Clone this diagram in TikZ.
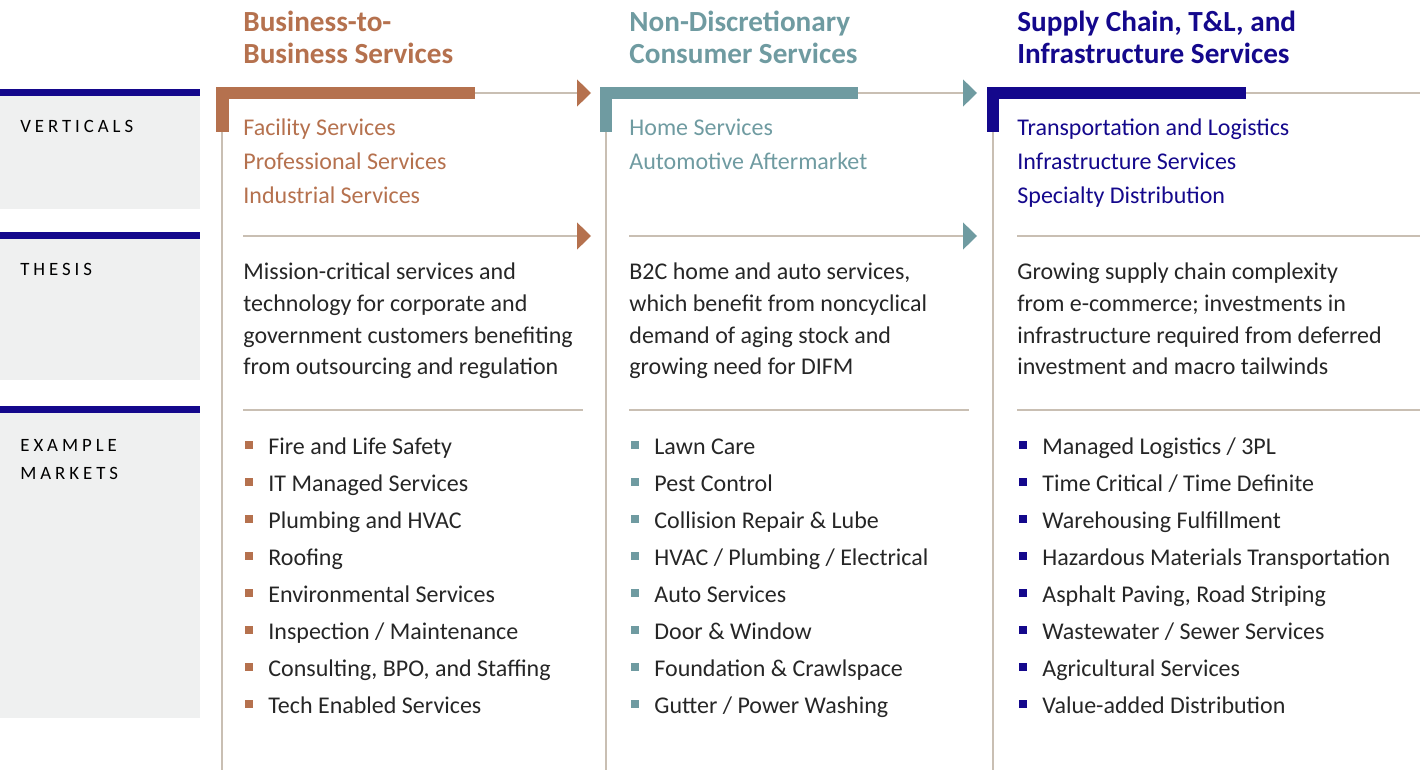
\documentclass[tikz,border=0pt]{standalone}
\usepackage{fontspec}
\setmainfont{Carlito}
\usetikzlibrary{arrows.meta}
\definecolor{corg}{HTML}{B5714E}
\definecolor{cteal}{HTML}{6F9BA1}
\definecolor{cnavy}{HTML}{14088C}
\definecolor{ctan}{HTML}{C9BFB3}
\definecolor{cgray}{HTML}{EFF0F0}
\definecolor{ctext}{HTML}{262626}
\begin{document}
\begin{tikzpicture}[x=0.5pt,y=-0.5pt,
  txt/.style={anchor=base west,inner sep=0pt,font=\fontsize{12}{14}\selectfont,text=ctext},
  head/.style={anchor=base west,inner sep=0pt,font=\fontsize{14.6}{17}\selectfont\bfseries},
  lab/.style={anchor=base west,inner sep=0pt,font=\fontsize{9.4}{11}\selectfont\addfontfeatures{LetterSpace=21},text=black},
  thin/.style={draw=ctan,line width=0.6pt},
  conn/.style={draw=ctan,line width=0.6pt},
  bul/.style={inner sep=0pt,minimum size=3.7pt,rectangle,anchor=center}
]
\useasboundingbox (0,0) rectangle (1424,770);
% left panels
\foreach \t/\b/\n in {89/209/v,232/380/t,406/718/e}{
  \fill[cgray] (0,\t) rectangle (200,\b);
  \fill[cnavy] (0,\t) rectangle (200,\t+7);
}
\node[lab] (lv) at (20,133) {VERTICALS};
\node[lab] (lt) at (20,276) {THESIS};
\node[lab] (le1) at (20,451) {EXAMPLE};
\node[lab] (le2) at (20,479) {MARKETS};
% vertical lines
\draw[thin] (222,120) -- (222,770);
\draw[thin] (606,120) -- (606,770);
\draw[thin] (993,120) -- (993,770);
% brackets
\fill[corg] (216,87) rectangle (475,99);
\fill[corg] (216,87) rectangle (229,132);
\fill[cteal] (600,87) rectangle (858,99);
\fill[cteal] (600,87) rectangle (612,132);
\fill[cnavy] (987,87) rectangle (1246,99);
\fill[cnavy] (987,87) rectangle (999,132);
% connectors row 1
\coordinate (r1a) at (475,93); \coordinate (r1b) at (591,93);
\coordinate (r1c) at (858,93); \coordinate (r1d) at (977,93);
\coordinate (r1e) at (1246,93); \coordinate (r1f) at (1420,93);
\draw[conn,-{Triangle[length=7pt,width=13.5pt,color=corg]}] (r1a) -- (r1b);
\draw[conn,-{Triangle[length=7pt,width=13.5pt,color=cteal]}] (r1c) -- (r1d);
\draw[conn] (r1e) -- (r1f);
% connectors row 2
\coordinate (r2a) at (243,236); \coordinate (r2b) at (591,236);
\coordinate (r2c) at (629,236); \coordinate (r2d) at (977,236);
\coordinate (r2e) at (1017,236); \coordinate (r2f) at (1420,236);
\draw[conn,-{Triangle[length=7pt,width=13.5pt,color=corg]}] (r2a) -- (r2b);
\draw[conn,-{Triangle[length=7pt,width=13.5pt,color=cteal]}] (r2c) -- (r2d);
\draw[conn] (r2e) -- (r2f);
% row 3 separators
\draw[thin] (243,410) -- (583,410);
\draw[thin] (629,410) -- (969,410);
\draw[thin] (1017,410) -- (1420,410);
% headers
\node[head,text=corg] (h1a) at (243,32) {Business-to-};
\node[head,text=corg] (h1b) at (243,64) {Business Services};
\node[head,text=cteal] (h2a) at (629,32) {Non-Discretionary};
\node[head,text=cteal] (h2b) at (629,64) {Consumer Services};
\node[head,text=cnavy] (h3a) at (1017,32) {Supply Chain, T\&L, and};
\node[head,text=cnavy] (h3b) at (1017,64) {Infrastructure Services};
% verticals
\node[txt,text=corg] (v11) at (243,136) {Facility Services};
\node[txt,text=corg] (v12) at (243,170) {Professional Services};
\node[txt,text=corg] (v13) at (243,204) {Industrial Services};
\node[txt,text=cteal] (v21) at (629,136) {Home Services};
\node[txt,text=cteal] (v22) at (629,170) {Automotive Aftermarket};
\node[txt,text=cnavy] (v31) at (1017,136) {Transportation and Logistics};
\node[txt,text=cnavy] (v32) at (1017,170) {Infrastructure Services};
\node[txt,text=cnavy] (v33) at (1017,204) {Specialty Distribution};
% thesis
\foreach \s [count=\i] in {Mission-critical services and,technology for corporate and,government customers benefiting,from outsourcing and regulation}
  \node[txt] (t1\i) at (243,{279.5+31.8*(\i-1)}) {\s};
\foreach \s [count=\i] in {{B2C home and auto services,},{which benefit from noncyclical},demand of aging stock and,growing need for DIFM}
  \node[txt] (t2\i) at (629,{279.5+31.8*(\i-1)}) {\s};
\foreach \s [count=\i] in {Growing supply chain complexity,{from e-commerce; investments in},infrastructure required from deferred,investment and macro tailwinds}
  \node[txt] (t3\i) at (1017,{279.5+31.8*(\i-1)}) {\s};
% bullets
\foreach \s [count=\i] in {Fire and Life Safety,IT Managed Services,Plumbing and HVAC,Roofing,Environmental Services,Inspection / Maintenance,{Consulting, BPO, and Staffing},Tech Enabled Services}{
  \node[bul,fill=corg] (b1\i) at (249,{445+37*(\i-1)}) {};
  \node[txt] (m1\i) at (268,{454.5+37*(\i-1)}) {\s};
}
\foreach \s [count=\i] in {Lawn Care,Pest Control,Collision Repair \& Lube,HVAC / Plumbing / Electrical,Auto Services,Door \& Window,Foundation \& Crawlspace,Gutter / Power Washing}{
  \node[bul,fill=cteal] (b2\i) at (635,{445+37*(\i-1)}) {};
  \node[txt] (m2\i) at (654,{454.5+37*(\i-1)}) {\s};
}
\foreach \s [count=\i] in {Managed Logistics / 3PL,Time Critical / Time Definite,Warehousing Fulfillment,Hazardous Materials Transportation,{Asphalt Paving, Road Striping},Wastewater / Sewer Services,Agricultural Services,Value-added Distribution}{
  \node[bul,fill=cnavy] (b3\i) at (1023,{445+37*(\i-1)}) {};
  \node[txt] (m3\i) at (1042,{454.5+37*(\i-1)}) {\s};
}
\end{tikzpicture}
\end{document}
